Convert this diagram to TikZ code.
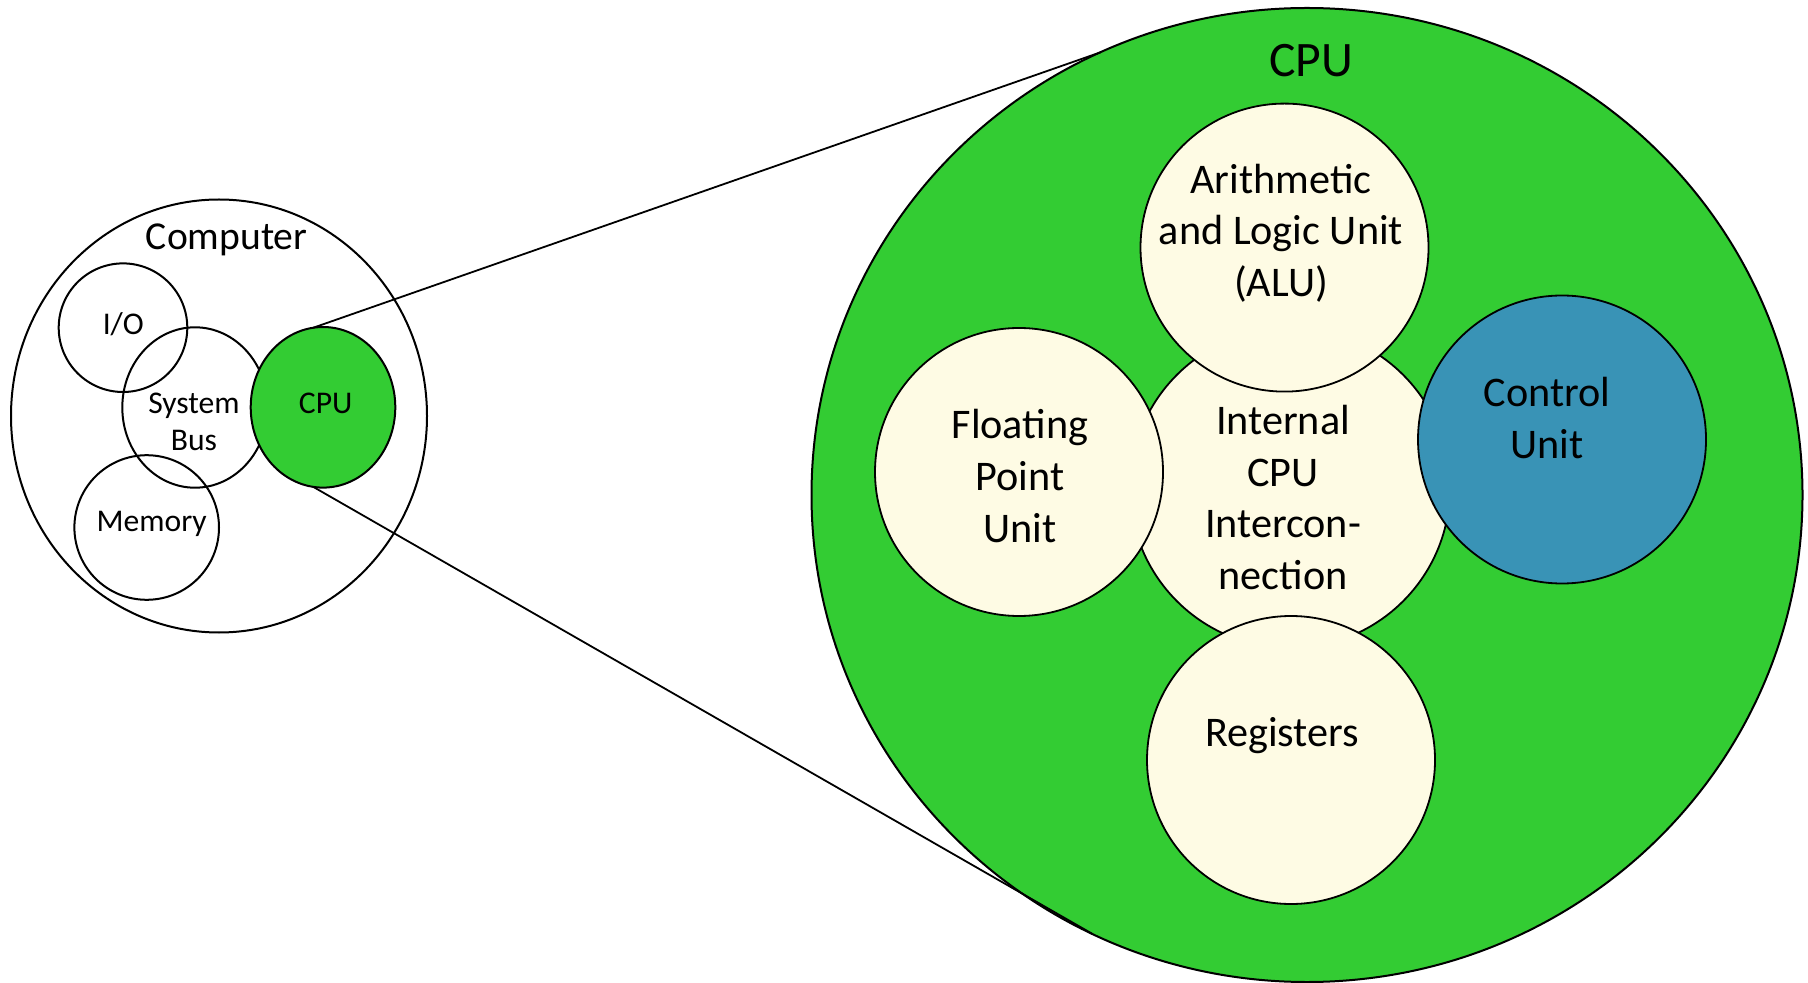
\documentclass[tikz,border=0pt]{standalone}
\usepackage{fontspec}
\setmainfont{Carlito}
\usetikzlibrary{shapes.geometric}

\definecolor{cpugreen}{RGB}{51,204,51}
\definecolor{unitcream}{RGB}{254,251,228}
\definecolor{ctrlblue}{RGB}{57,147,182}

\tikzset{
  part/.style={draw=black, line width=1pt, inner sep=0pt, outer sep=0pt},
  roundpart/.style={part, circle, minimum size=#1},
  ovalpart/.style={part, ellipse},
  unit/.style={roundpart=#1, fill=unitcream, line width=0.9pt},
  % labels are placed by the baseline of their last line
  smalltext/.style={inner sep=0pt, anchor=base, align=center,
    font=\fontsize{15.8}{18.7}\selectfont},
  unittext/.style={inner sep=0pt, anchor=base, align=center,
    font=\fontsize{21.1}{25.75}\selectfont},
  zoomline/.style={draw=black, line width=0.9pt}
}

\begin{document}
\begin{tikzpicture}[x=0.5pt, y=-0.5pt]
  \useasboundingbox (0,0) rectangle (1808,983);

  % ---- the computer as a whole ----
  \node[ovalpart, minimum width=208pt, minimum height=216.5pt] (computer) at (219,416) {};
  \node[roundpart=64.3pt] (io) at (123,327.7) {};
  \node[ovalpart, minimum width=72.7pt, minimum height=80.2pt] (bus) at (195,407.5) {};
  \node[roundpart=72.3pt] (memory) at (146.7,527.5) {};
  \node[ovalpart, fill=cpugreen, minimum width=72.3pt, minimum height=80.3pt] (cpu) at (323,407.3) {};

  \node[inner sep=0pt, anchor=base, font=\fontsize{19.8}{24}\selectfont] (computerlabel) at (226.7,250) {Computer};
  \node[smalltext] (iolabel) at (123.3,335) {I/O};
  \node[smalltext] (buslabel) at (194,450.7) {System\\Bus};
  \node[smalltext] (cpulabel) at (325.7,413.3) {CPU};
  \node[smalltext] (memorylabel) at (151.7,531.7) {Memory};

  % ---- the CPU in detail ----
  \node[ovalpart, fill=cpugreen, minimum width=495.5pt, minimum height=487pt] (bigcpu) at (1307,495) {};
  \node[unit=160pt] (internal) at (1290,488) {};
  \node[unit=144pt] (alu) at (1284.5,247.6) {};
  \node[unit=144pt] (fpu) at (1019,472) {};
  \node[unit=144pt] (registers) at (1291,760) {};
  \node[unit=144pt, fill=ctrlblue] (control) at (1562,439.5) {};

  \node[inner sep=0pt, anchor=base, font=\fontsize{24.8}{30}\selectfont] (bigcpulabel) at (1311,76.4) {CPU};
  \node[unittext] (alulabel) at (1281,296.5) {Arithmetic\\and Logic Unit\\(ALU)};
  \node[unittext] (internallabel) at (1283,589) {Internal\\CPU\\Intercon-\\nection};
  \node[unittext] (fpulabel) at (1020,542) {Floating\\Point\\Unit};
  \node[unittext] (controllabel) at (1547,458.3) {Control\\Unit};
  \node[unittext] (registerslabel) at (1282,746.8) {Registers};

  % ---- zoom lines from the small CPU to the detailed one ----
  \draw[zoomline] (cpu.97) -- (bigcpu.115.3);
  \draw[zoomline] (cpu.263) -- (bigcpu.244.6);
\end{tikzpicture}
\end{document}
